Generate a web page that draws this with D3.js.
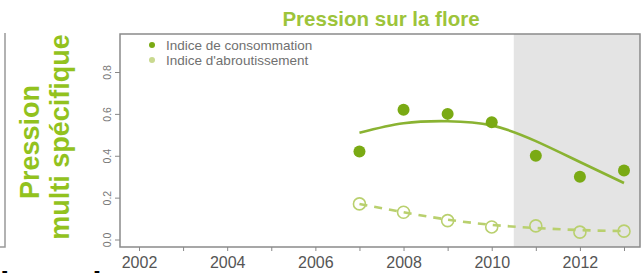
<!DOCTYPE html>
<html><head><meta charset="utf-8">
<script src="https://cdn.jsdelivr.net/npm/d3@7"></script>
<style>body{margin:0;background:#fff}svg{display:block}</style>
</head><body>
<script>
const years = [2007, 2008, 2009, 2010, 2011, 2012, 2013];
const consommation = [0.42, 0.62, 0.60, 0.56, 0.40, 0.30, 0.33];
const abroutissement = [0.17, 0.13, 0.09, 0.06, 0.065, 0.035, 0.04];
const consoFit = [0.51, 0.555, 0.565, 0.545, 0.47, 0.37, 0.27];
const abroutFit = [0.17, 0.13, 0.095, 0.07, 0.055, 0.045, 0.04];
const xTicks = [2002, 2003, 2004, 2005, 2006, 2007, 2008, 2009, 2010, 2011, 2012, 2013];
const xLabels = [2002, 2004, 2006, 2008, 2010, 2012];
const yTicks = [0, 0.2, 0.4, 0.6, 0.8];
const shadeStart = 2010.5;
const title = "Pression sur la flore";
const legendLabels = ["Indice de consommation", "Indice d'abroutissement"];

const W = 644, H = 273;
const box = {l: 120, r: 640, t: 34, b: 247};
const svg = d3.select("body").append("svg").attr("width", W).attr("height", H);

const x = d3.scaleLinear().domain([2002, 2013]).range([139, 624]);
const y = d3.scaleLinear().domain([0, 0.8]).range([239.5, 72]);

const green = "#7aaa14", lineGreen = "#8ab332", light = "#b9d06e", labelGreen = "#92c21e";
const font = "Liberation Sans, Arial, sans-serif";

// left neighbouring panel border
svg.append("path").attr("d", "M5,33 V247 H0").attr("fill", "none").attr("stroke", "#999").attr("stroke-width", 1.5);

// shaded area
svg.append("rect").attr("x", x(shadeStart)).attr("y", box.t).attr("width", box.r - x(shadeStart)).attr("height", box.b - box.t).attr("fill", "#e4e4e4");

// frame
svg.append("rect").attr("x", box.l).attr("y", box.t).attr("width", box.r - box.l).attr("height", box.b - box.t)
  .attr("fill", "none").attr("stroke", "#8a8a8a").attr("stroke-width", 1.5);

// x axis
const xAxis = d3.axisBottom(x).tickValues(xTicks).tickSize(4).tickFormat(d => xLabels.includes(d) ? d : "");
const gx = svg.append("g").attr("transform", `translate(0,${box.b})`).call(xAxis);
gx.select(".domain").remove();
gx.selectAll("line").attr("stroke", "#888");
gx.selectAll("text").attr("font-family", font).attr("font-size", 16).attr("fill", "#555").attr("dy", "0.9em");

// y axis
const yAxis = d3.axisLeft(y).tickValues(yTicks).tickSize(5).tickFormat(d3.format(".1f"));
const gy = svg.append("g").attr("transform", `translate(${box.l},0)`).call(yAxis);
gy.select(".domain").remove();
gy.selectAll("line").attr("stroke", "#888");
gy.selectAll("text").attr("font-family", font).attr("font-size", 10.5).attr("fill", "#777")
  .attr("x", 0).attr("dy", 0).attr("text-anchor", "middle")
  .attr("transform", "translate(-9,0) rotate(-90)");

// fitted lines
const line = d3.line().x((d, i) => x(years[i])).y(d => y(d)).curve(d3.curveNatural);
svg.append("path").attr("d", line(consoFit)).attr("fill", "none").attr("stroke", lineGreen).attr("stroke-width", 2.6);
svg.append("path").attr("d", line(abroutFit)).attr("fill", "none").attr("stroke", light).attr("stroke-width", 2.6).attr("stroke-dasharray", "8,7");

// points
svg.selectAll(".c1").data(consommation).enter().append("circle")
  .attr("cx", (d, i) => x(years[i])).attr("cy", d => y(d)).attr("r", 6).attr("fill", green);
svg.selectAll(".c2").data(abroutissement).enter().append("circle")
  .attr("cx", (d, i) => x(years[i])).attr("cy", d => y(d)).attr("r", 6).attr("fill", "none").attr("stroke", light).attr("stroke-width", 1.6);

// legend
const lg = svg.append("g").attr("font-family", font).attr("font-size", 13.5).attr("fill", "#707070");
lg.append("circle").attr("cx", 152).attr("cy", 45).attr("r", 3).attr("fill", green);
lg.append("circle").attr("cx", 152).attr("cy", 60).attr("r", 3).attr("fill", "#c9d98f");
lg.append("text").attr("x", 166).attr("y", 49.5).text(legendLabels[0]);
lg.append("text").attr("x", 166).attr("y", 64.5).text(legendLabels[1]);

// title
svg.append("text").attr("x", 381).attr("y", 26).attr("text-anchor", "middle")
  .attr("font-family", font).attr("font-weight", "bold").attr("font-size", 20.5)
  .attr("fill", "#9dc43a").text(title);

// y label
const yl = svg.append("g").attr("font-family", font).attr("font-weight", "bold").attr("font-size", 27).attr("fill", labelGreen).attr("text-anchor", "middle");
yl.append("text").attr("transform", "translate(39,142) rotate(-90)").text("Pression");
yl.append("text").attr("transform", "translate(69,137) rotate(-90)").text("multi spécifique");

// clipped bottom text from neighbouring content
const bt = svg.append("g").attr("font-family", font).attr("font-weight", "bold").attr("font-size", 34).attr("fill", "#000");
bt.append("text").attr("x", 0).attr("y", 295).text("it");
bt.append("text").attr("x", 81).attr("y", 295).text("ti");
</script>
</body></html>
